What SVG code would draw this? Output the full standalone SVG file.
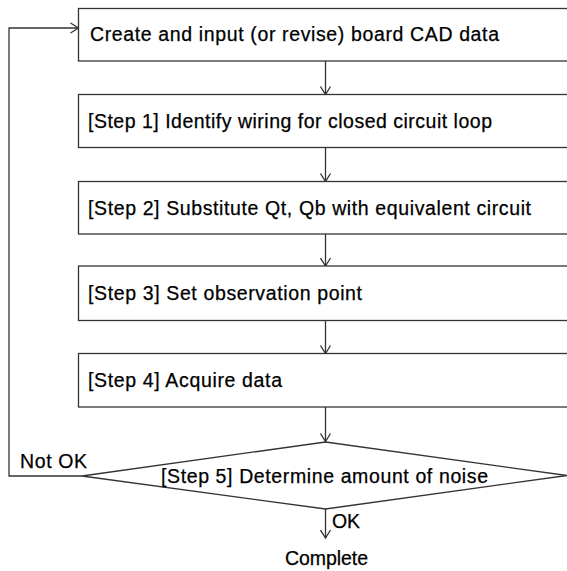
<svg xmlns="http://www.w3.org/2000/svg" width="567" height="571" viewBox="0 0 567 571">
<style>
.box{fill:#fff;stroke:#333;stroke-width:1.3}
.ln{fill:none;stroke:#333;stroke-width:1.3}
text{font-family:"Liberation Sans",Arial,sans-serif;font-size:19.5px;fill:#000;stroke:#000;stroke-width:0.25}
</style>
<defs>
<marker id="ah" markerWidth="12" markerHeight="12" refX="10" refY="6" orient="auto" markerUnits="userSpaceOnUse">
<polyline points="2,1 10,6 2,11" fill="none" stroke="#333" stroke-width="1.3"/>
</marker>
</defs>
<rect width="567" height="571" fill="#fff"/>
<g id="connectors">
<line class="ln" x1="325.5" y1="61" x2="325.5" y2="94.5" marker-end="url(#ah)"/>
<line class="ln" x1="325.5" y1="147.5" x2="325.5" y2="181.5" marker-end="url(#ah)"/>
<line class="ln" x1="325.5" y1="234" x2="325.5" y2="266" marker-end="url(#ah)"/>
<line class="ln" x1="325.5" y1="320.5" x2="325.5" y2="353.5" marker-end="url(#ah)"/>
<line class="ln" x1="325.5" y1="407" x2="325.5" y2="441.5" marker-end="url(#ah)"/>
<line class="ln" x1="325.5" y1="509" x2="325.5" y2="538" marker-end="url(#ah)"/>
<polyline class="ln" points="82,476 9,476 9,28 78.5,28" marker-end="url(#ah)"/>
</g>
<g id="n0">
<rect class="box" x="78.5" y="8.5" width="500" height="52.5"/>
<text x="90" y="41" textLength="409" lengthAdjust="spacing">Create and input (or revise) board CAD data</text>
</g>
<g id="n1">
<rect class="box" x="78.5" y="94.5" width="500" height="53"/>
<text x="88" y="127.5" textLength="404" lengthAdjust="spacing">[Step 1] Identify wiring for closed circuit loop</text>
</g>
<g id="n2">
<rect class="box" x="78.5" y="181.5" width="500" height="52.5"/>
<text x="88" y="214.5" textLength="443" lengthAdjust="spacing">[Step 2] Substitute Qt, Qb with equivalent circuit</text>
</g>
<g id="n3">
<rect class="box" x="78.5" y="266" width="500" height="54.5"/>
<text x="88" y="300" textLength="274" lengthAdjust="spacing">[Step 3] Set observation point</text>
</g>
<g id="n4">
<rect class="box" x="78.5" y="353.5" width="500" height="53.5"/>
<text x="88" y="387" textLength="194" lengthAdjust="spacing">[Step 4] Acquire data</text>
</g>
<g id="n5">
<polygon class="box" points="325.5,442 567,475.5 325.5,509 82,476"/>
<text x="161" y="483" textLength="327" lengthAdjust="spacing">[Step 5] Determine amount of noise</text>
</g>
<g id="labels">
<text x="20" y="468" textLength="67" lengthAdjust="spacing">Not OK</text>
<text x="332" y="528" textLength="28" lengthAdjust="spacing">OK</text>
<text x="285" y="565" textLength="83" lengthAdjust="spacing">Complete</text>
</g>
</svg>
